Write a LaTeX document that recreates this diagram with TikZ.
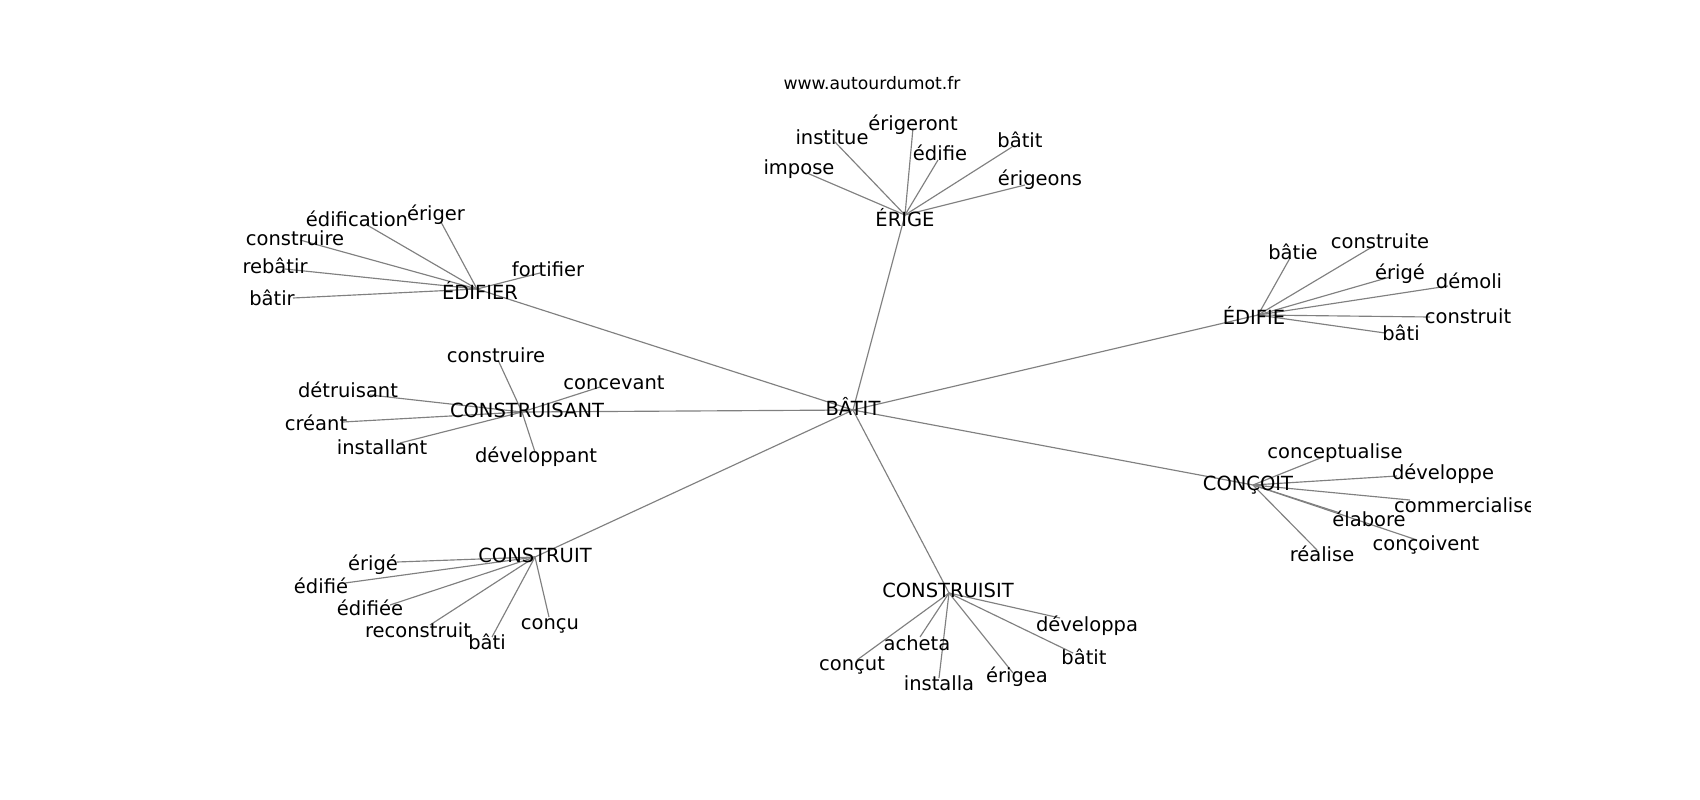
\documentclass[tikz,border=0pt]{standalone}
\usepackage{fontspec}
\setmainfont{DejaVu Sans}
\begin{document}
\begin{tikzpicture}[x=1pt,y=-1pt,
  lbl/.style={font=\fontsize{19.5}{20}\selectfont, inner sep=0pt, anchor=base, yshift=-7.5pt, text=black},
  ttl/.style={font=\fontsize{17.2}{18}\selectfont, inner sep=0pt, anchor=base, yshift=-6.5pt, text=black},
  edge/.style={draw=gray, line width=1.15pt}]
\useasboundingbox[fill=white] (0,0) rectangle (1700,800);
\node[ttl] (url) at (872,83) {www.autourdumot.fr};
\begin{scope}
\clip (212.5,96) rectangle (1530,712);
% vertices
\coordinate (vBatit) at (853,410);
\coordinate (vEdifier) at (477,289);
\coordinate (vErige) at (905,215);
\coordinate (vEdifie) at (1258,315);
\coordinate (vConstruisant) at (522,412);
\coordinate (vConcoit) at (1253,485);
\coordinate (vConstruit) at (535,557);
\coordinate (vConstruisit) at (949,593);
% EDIFIER leaves
\coordinate (a1) at (367,225);
\coordinate (a2) at (441,222);
\coordinate (a3) at (300,240);
\coordinate (a4) at (285,269);
\coordinate (a5) at (293,298);
\coordinate (a6) at (540,273);
% CONSTRUISANT leaves
\coordinate (b1) at (370,395);
\coordinate (b2) at (343,422);
\coordinate (b3) at (400,443);
\coordinate (b4) at (498,360);
\coordinate (b5) at (600,387);
\coordinate (b6) at (535,452);
% ERIGE leaves
\coordinate (c1) at (807,173);
\coordinate (c2) at (835,142);
\coordinate (c3) at (913,128);
\coordinate (c4) at (938,160);
\coordinate (c5) at (1012,147);
\coordinate (c6) at (1025,185);
% EDIFIE leaves
\coordinate (d1) at (1290,258);
\coordinate (d2) at (1372,247);
\coordinate (d3) at (1390,277);
\coordinate (d4) at (1448,286);
\coordinate (d5) at (1430,317);
\coordinate (d6) at (1385,333);
% CONCOIT leaves
\coordinate (e1) at (1323,457);
\coordinate (e2) at (1397,476);
\coordinate (e3) at (1410,500);
\coordinate (e4) at (1340,513);
\coordinate (e5) at (1417,540);
\coordinate (e6) at (1317,550);
% CONSTRUIT leaves
\coordinate (f1) at (397,562);
\coordinate (f2) at (345,583);
\coordinate (f3) at (390,605);
\coordinate (f4) at (430,625);
\coordinate (f5) at (492,637);
\coordinate (f6) at (549,617);
% CONSTRUISIT leaves
\coordinate (g1) at (920,637);
\coordinate (g2) at (857,660);
\coordinate (g3) at (939,678);
\coordinate (g4) at (1013,673);
\coordinate (g5) at (1060,618);
\coordinate (g6) at (1073,653);
% edges
\foreach \h in {vEdifier,vErige,vEdifie,vConstruisant,vConcoit,vConstruit,vConstruisit}
  \draw[edge] (vBatit) -- (\h);
\foreach \l in {a1,a2,a3,a4,a5,a6} \draw[edge] (vEdifier) -- (\l);
\foreach \l in {b1,b2,b3,b4,b5,b6} \draw[edge] (vConstruisant) -- (\l);
\foreach \l in {c1,c2,c3,c4,c5,c6} \draw[edge] (vErige) -- (\l);
\foreach \l in {d1,d2,d3,d4,d5,d6} \draw[edge] (vEdifie) -- (\l);
\foreach \l in {e1,e2,e3,e4,e5,e6} \draw[edge] (vConcoit) -- (\l);
\foreach \l in {f1,f2,f3,f4,f5,f6} \draw[edge] (vConstruit) -- (\l);
\foreach \l in {g1,g2,g3,g4,g5,g6} \draw[edge] (vConstruisit) -- (\l);
% hub labels
\node[lbl] (lBatit) at (853,408) {BÂTIT};
\node[lbl] (lEdifier) at (480,292) {ÉDIFIER};
\node[lbl] (lErige) at (905,219) {ÉRIGE};
\node[lbl] (lEdifie) at (1254,317) {ÉDIFIE};
\node[lbl] (lConstruisant) at (527,410) {CONSTRUISANT};
\node[lbl] (lConcoit) at (1248,483) {CONÇOIT};
\node[lbl] (lConstruit) at (535,555) {CONSTRUIT};
\node[lbl] (lConstruisit) at (948,590) {CONSTRUISIT};
% leaf labels
\node[lbl] (la1) at (357,219) {édification};
\node[lbl] (la2) at (436,213) {ériger};
\node[lbl] (la3) at (295,238) {construire};
\node[lbl] (la4) at (275,266) {rebâtir};
\node[lbl] (la5) at (272,298) {bâtir};
\node[lbl] (la6) at (548,269) {fortifier};
\node[lbl] (lb1) at (348,390) {détruisant};
\node[lbl] (lb2) at (316,423) {créant};
\node[lbl] (lb3) at (382,447) {installant};
\node[lbl] (lb4) at (496,355) {construire};
\node[lbl] (lb5) at (614,382) {concevant};
\node[lbl] (lb6) at (536,455) {développant};
\node[lbl] (lc1) at (799,167) {impose};
\node[lbl] (lc2) at (832,137) {institue};
\node[lbl] (lc3) at (913,123) {érigeront};
\node[lbl] (lc4) at (940,153) {édifie};
\node[lbl] (lc5) at (1020,140) {bâtit};
\node[lbl] (lc6) at (1040,178) {érigeons};
\node[lbl] (ld1) at (1293,252) {bâtie};
\node[lbl] (ld2) at (1380,241) {construite};
\node[lbl] (ld3) at (1400,272) {érigé};
\node[lbl] (ld4) at (1469,281) {démoli};
\node[lbl] (ld5) at (1468,316) {construit};
\node[lbl] (ld6) at (1401,333) {bâti};
\node[lbl] (le1) at (1335,451) {conceptualise};
\node[lbl] (le2) at (1443,472) {développe};
\node[lbl, anchor=base west] (le3) at (1394,505) {commercialise};
\node[lbl] (le4) at (1369,519) {élabore};
\node[lbl] (le5) at (1426,543) {conçoivent};
\node[lbl] (le6) at (1322,554) {réalise};
\node[lbl] (lf1) at (373,563) {érigé};
\node[lbl] (lf2) at (321,586) {édifié};
\node[lbl] (lf3) at (370,608) {édifiée};
\node[lbl] (lf4) at (418,630) {reconstruit};
\node[lbl] (lf5) at (487,642) {bâti};
\node[lbl] (lf6) at (550,622) {conçu};
\node[lbl] (lg1) at (917,643) {acheta};
\node[lbl] (lg2) at (852,663) {conçut};
\node[lbl] (lg3) at (939,683) {installa};
\node[lbl] (lg4) at (1017,675) {érigea};
\node[lbl] (lg5) at (1087,624) {développa};
\node[lbl] (lg6) at (1084,657) {bâtit};
\end{scope}
\end{tikzpicture}
\end{document}
